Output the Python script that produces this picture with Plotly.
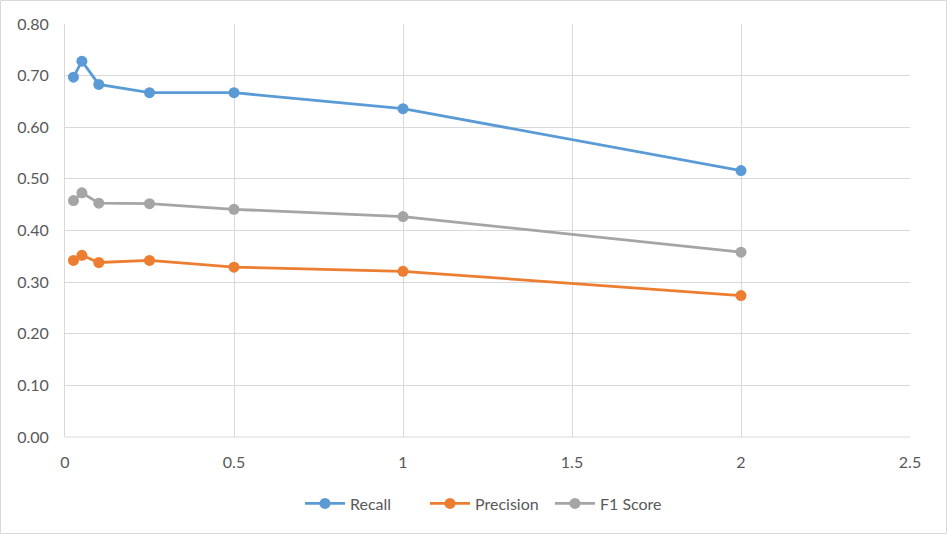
import plotly.graph_objects as go

x_vals = [0.025, 0.05, 0.1, 0.25, 0.5, 1, 2]
recall = [0.697, 0.728, 0.683, 0.667, 0.667, 0.636, 0.516]
precision = [0.342, 0.352, 0.338, 0.342, 0.329, 0.321, 0.274]
f1_score = [0.458, 0.473, 0.453, 0.452, 0.441, 0.427, 0.358]

series = [("Recall", recall, "#5B9BD5"),
          ("Precision", precision, "#ED7D31"),
          ("F1 Score", f1_score, "#A5A5A5")]

fig = go.Figure()
for name, vals, col in series:
    fig.add_trace(go.Scatter(x=x_vals, y=vals, name=name, mode="lines+markers",
                             line=dict(color=col, width=2.8),
                             marker=dict(color=col, size=11)))

W, H = 947, 534
ml, mr, mt, mb = 65, 37, 24, 97
pw, ph = W - ml - mr, H - mt - mb

fig.update_layout(
    width=W, height=H,
    margin=dict(l=ml, r=mr, t=mt, b=mb),
    paper_bgcolor="white", plot_bgcolor="white",
    font=dict(family="Lato, Open Sans, sans-serif", size=16, color="#595959"),
    showlegend=True,
    legend=dict(orientation="h", x=0.5, xanchor="center", y=-0.12, yanchor="top",
                font=dict(size=16, color="#595959"), entrywidth=70, itemwidth=40),
    xaxis=dict(range=[0, 2.5], dtick=0.5, tick0=0, showgrid=True, gridcolor="#D9D9D9",
               gridwidth=1, zeroline=False, showline=False, ticks="", ticklabelstandoff=14),
    yaxis=dict(range=[0, 0.8], dtick=0.1, tick0=0, tickformat=".2f", showgrid=True,
               gridcolor="#D9D9D9", gridwidth=1, zeroline=False, showline=True,
               linecolor="#D9D9D9", ticks="", ticklabelstandoff=12),
    shapes=[
        dict(type="line", xref="paper", yref="paper", x0=0, x1=1, y0=0, y1=0,
             line=dict(color="#D9D9D9", width=1), layer="below"),
        dict(type="rect", xref="paper", yref="paper",
             x0=(0.5 - ml) / pw, x1=(W - 0.5 - ml) / pw,
             y0=-(H - 0.5 - mt - ph) / ph, y1=(ph + mt - 0.5) / ph,
             line=dict(color="#D9D9D9", width=1)),
    ],
)

fig.write_html("out.html", config={"displayModeBar": False},
               post_script="document.body.style.margin='0';document.body.style.overflow='hidden';")
